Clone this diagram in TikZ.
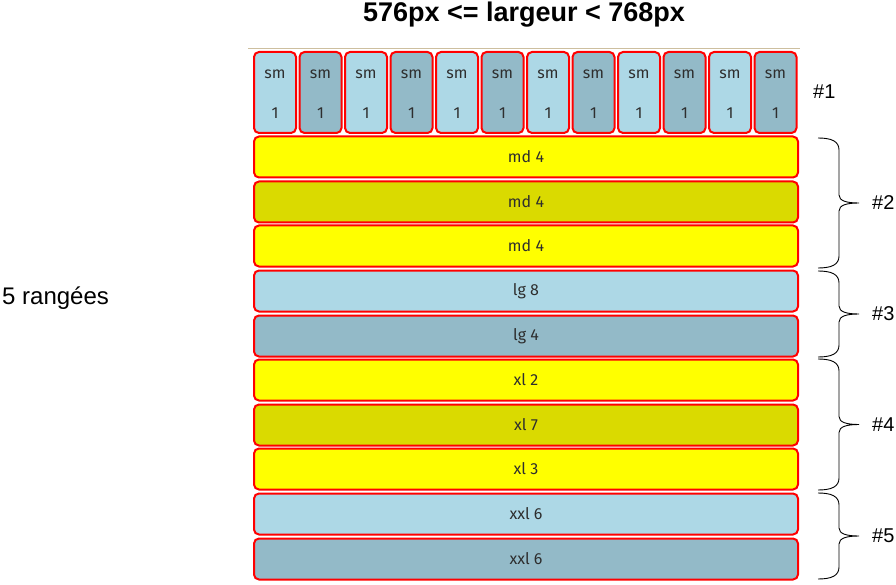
\documentclass[tikz,border=0pt]{standalone}
\usepackage{fontspec}
\setmainfont{Liberation Sans}
\newfontfamily\boxfont{Fira Sans}
\usetikzlibrary{positioning}
\usepackage{xcolor}
\definecolor{lblue}{HTML}{ADD8E6}
\definecolor{dblue}{HTML}{93BAC8}
\definecolor{jaune}{HTML}{FFFF00}
\definecolor{kaki}{HTML}{DADA00}
\definecolor{filet}{HTML}{CDBF9F}

\begin{document}
\begin{tikzpicture}[x=1pt, y=-1pt,
  cellule/.style={draw=red, line width=2pt, rounded corners=5pt,
                  minimum width=42pt, minimum height=81pt, inner sep=0pt,
                  align=center, text=black!82, text height=52pt, text depth=0pt,
                  font=\boxfont\fontsize{16}{40}\selectfont},
  bande/.style={draw=red, line width=2pt, rounded corners=5pt,
                minimum width=544pt, minimum height=41pt, inner sep=0pt,
                text=black!82, font=\boxfont\fontsize{16}{19}\selectfont},
  accolade/.style={line width=0.9pt, black},
  num/.style={font=\fontsize{20}{24}\selectfont, anchor=west, inner sep=0pt}
]
\useasboundingbox (0,0) rectangle (896,585);
% ---------------- Title ----------------
\node[font=\bfseries\fontsize{27}{32}\selectfont] (titre) at (524,15)
  {576px <= largeur < 768px};
\node[font=\fontsize{24}{28}\selectfont, anchor=west, inner sep=0pt] (rangees)
  at (2,298) {5 rangées};
\draw[filet, line width=1pt] (248,49) -- (800,49);
% ---------------- Row 1: sm cells ----------------
\foreach \i in {0,...,11}{
  \ifodd\i \def\teinte{dblue}\else \def\teinte{lblue}\fi
  \node[cellule, fill=\teinte] (sm\i) at ({275+45.5*\i},92.5) {sm\\1};
}
\node[num] (n1) at (813,92) {\#1};
% ---------------- Rows 2 to 5 ----------------
\foreach \cy/\c/\t [count=\k] in {157/jaune/md 4, 202/kaki/md 4, 246/jaune/md 4,
    291/lblue/lg 8, 336/dblue/lg 4, 380/jaune/xl 2, 425/kaki/xl 7,
    469/jaune/xl 3, 514/lblue/xxl 6, 559/dblue/xxl 6}
  \node[bande, fill=\c] (b\k) at (526,\cy) {\t};
% ---------------- Braces ----------------
\foreach \a/\b/\n in {138/268/2, 271/357/3, 359/490/4, 493/579/5}{
  \pgfmathsetmacro\m{(\a+\b)/2}
  \draw[accolade] (818,\a) .. controls (831,\a) and (839,\a+3) .. (839,\a+12)
    -- (839,\m-8) .. controls (839,\m-2) and (847,\m) .. (859,\m)
    .. controls (847,\m) and (839,\m+2) .. (839,\m+8)
    -- (839,\b-12) .. controls (839,\b-3) and (831,\b) .. (818,\b);
  \node[num] (n\n) at (872,\m) {\#\n};
}
\end{tikzpicture}
\end{document}
